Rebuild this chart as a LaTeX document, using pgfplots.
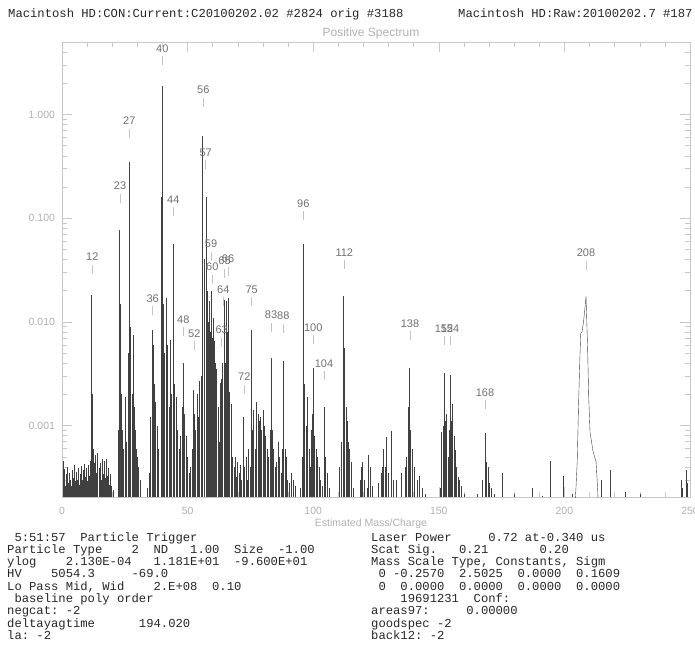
\documentclass[border=0pt]{standalone}
\usepackage{pgfplots}
\pgfplotsset{compat=1.18}
\usepackage{pgfplotstable}
\usepackage{fontspec}
\setmainfont{Liberation Sans}
\setmonofont{Liberation Mono}
\definecolor{axgray}{HTML}{C8C8C8}
\definecolor{tlgray}{HTML}{B0B0B0}
\definecolor{lbgray}{HTML}{707070}
\definecolor{lbtick}{HTML}{C4C4C4}
\definecolor{datgray}{HTML}{404040}
\definecolor{txtgray}{HTML}{262626}

\pgfplotstableread{
m h
0.3 4.6e-4
0.7 3.0e-4
1.0 3.8e-4
1.4 2.6e-4
1.8 3.4e-4
2.2 4.0e-4
2.6 2.8e-4
3.0 3.5e-4
3.4 3.0e-4
3.8 2.6e-4
4.2 3.7e-4
4.6 3.1e-4
5.0 4.2e-4
5.4 2.9e-4
5.8 3.6e-4
6.2 3.0e-4
6.6 3.9e-4
7.0 2.7e-4
7.4 3.4e-4
7.8 4.1e-4
8.2 3.0e-4
8.6 3.7e-4
9.0 4.3e-4
9.4 3.2e-4
9.8 3.9e-4
10.2 2.9e-4
10.6 4.2e-4
11.0 3.3e-4
11.4 4.6e-4
11.8 1.8e-2
12.2 2.0e-3
12.6 6.0e-4
13.0 4.4e-4
13.4 5.2e-4
13.8 3.5e-4
14.2 5.4e-4
14.6 3.9e-4
15.0 4.4e-4
15.4 3.0e-4
15.8 4.8e-4
16.2 3.4e-4
16.6 4.6e-4
17.0 3.1e-4
17.4 4.8e-4
17.8 3.3e-4
18.2 3.9e-4
18.6 2.7e-4
19.0 3.4e-4
19.5 2.6e-4
20.2 2.4e-4
22.3 9.0e-4
22.8 7.7e-2
23.2 1.5e-2
23.6 2.0e-3
24.0 9.0e-4
24.5 6.0e-4
25.0 1.9e-3
25.5 7.0e-4
26.2 5.0e-3
26.8 3.5e-1
27.3 9.0e-3
27.8 2.0e-3
28.2 7.5e-3
28.6 1.5e-3
29.1 9.0e-4
29.6 6.0e-4
30.0 5.0e-4
30.5 4.0e-4
31.0 3.0e-4
33.8 2.5e-4
34.6 3.5e-4
35.2 1.2e-3
35.7 8.3e-3
36.2 6.0e-3
36.7 2.5e-3
37.2 1.7e-3
37.8 1.0e-3
38.4 6.0e-4
39.3 1.6e-1
39.8 1.9
40.3 1.5e-2
40.8 5.0e-3
41.6 1.7e-2
42.0 6.0e-3
42.5 1.5e-3
43.0 6.7e-3
43.5 2.0e-3
44.2 5.7e-2
44.7 2.5e-3
45.3 1.9e-3
45.9 9.0e-4
46.5 6.0e-4
47.1 8.0e-4
47.7 1.5e-3
48.3 4.0e-3
48.8 1.3e-3
49.4 8.0e-4
50.0 5.0e-4
50.6 3.5e-4
51.2 4.0e-4
51.7 6.0e-4
52.2 2.2e-3
52.7 1.3e-3
53.2 9.0e-4
53.7 2.0e-3
54.2 1.2e-3
54.8 2.7e-3
55.3 3.0e-3
55.9 6.2e-1
56.4 4.0e-2
57.2 1.6e-1
57.6 2.0e-2
58.0 1.0e-2
58.4 1.6e-2
58.9 8.0e-3
59.3 2.0e-2
59.7 7.0e-3
60.1 1.1e-2
60.5 6.5e-3
61.0 4.0e-3
61.5 3.5e-3
62.0 1.5e-3
62.4 7.0e-4
62.8 2.6e-3
63.3 2.8e-3
63.8 4.0e-3
64.4 1.63e-2
64.8 4.0e-3
65.2 1.6e-2
65.6 8.0e-3
66.0 1.7e-2
66.6 2.1e-3
67.2 1.6e-3
67.8 5.0e-4
68.4 4.0e-4
68.9 5.0e-4
69.4 3.2e-4
69.9 4.5e-4
70.4 3.5e-4
70.9 4.2e-4
71.4 3.0e-4
72.2 1.2e-3
72.7 4.0e-4
73.2 5.0e-4
73.7 3.0e-4
74.3 6.0e-4
74.8 4.0e-4
75.2 8.4e-3
75.7 9.0e-4
76.3 1.4e-3
76.8 6.0e-4
77.4 1.7e-3
77.9 1.3e-3
78.4 1.1e-3
78.9 1.2e-3
79.4 9.0e-4
80.0 1.4e-3
80.5 1.0e-3
81.0 8.0e-4
81.5 6.0e-4
82.1 5.0e-4
82.7 9.0e-4
83.2 4.5e-3
83.7 9.0e-4
84.2 6.0e-4
84.8 4.0e-4
85.4 4.5e-4
86.0 7.0e-4
86.6 5.0e-4
87.2 3.5e-4
87.7 6.0e-4
88.2 4.2e-3
88.7 6.0e-4
89.2 5.0e-4
89.8 3.0e-4
90.5 2.8e-4
91.3 3.5e-4
92.2 3.0e-4
93.0 2.6e-4
94.8 2.5e-4
95.5 5.0e-4
96.1 5.7e-2
96.6 2.5e-3
97.1 1.0e-3
97.6 1.9e-3
98.2 6.0e-4
98.8 4.0e-4
99.3 9.0e-4
99.6 1.3e-3
100.0 3.6e-3
100.5 8.0e-4
101.0 6.0e-4
101.6 5.0e-4
102.2 4.0e-4
102.8 3.0e-4
103.6 2.6e-4
104.3 1.5e-3
104.8 5.0e-4
105.5 3.5e-4
106.4 2.5e-4
110.4 4.0e-4
111.3 7.0e-4
112.0 1.76e-2
112.5 5.6e-3
113.0 1.5e-3
113.5 1.1e-3
114.0 7.0e-4
114.5 6.0e-4
115.2 4.5e-4
116.0 2.5e-4
118.6 3.0e-4
119.1 4.0e-4
119.6 4.5e-4
120.2 3.0e-4
121.6 2.5e-4
122.0 5.2e-4
122.5 4.0e-4
123.3 2.6e-4
125.8 2.8e-4
126.9 3.5e-4
127.4 4.0e-4
127.9 6.0e-4
128.5 4.0e-4
129.2 7.7e-4
129.7 3.5e-4
131.2 8.9e-4
131.7 3.0e-4
133.0 3.0e-4
135.2 3.5e-4
136.6 4.0e-4
137.2 5.0e-4
137.7 1.5e-3
138.3 3.6e-3
138.8 9.0e-4
139.4 6.0e-4
140.3 4.0e-4
141.5 3.0e-4
142.3 3.3e-4
143.5 2.5e-4
144.5 2.2e-4
150.5 2.5e-4
151.1 8.6e-4
151.7 1.0e-3
152.2 3.2e-3
152.7 1.1e-3
153.1 1.3e-3
153.6 5.0e-4
154.0 9.0e-4
154.5 3.1e-3
155.0 1.1e-3
155.4 1.6e-3
156.0 8.0e-4
156.5 5.8e-4
157.0 4.0e-4
157.6 3.2e-4
158.2 3.0e-4
158.8 2.6e-4
160.0 2.2e-4
165.2 2.2e-4
167.2 3.0e-4
168.4 8.4e-4
168.9 4.5e-4
169.5 4.0e-4
170.2 2.8e-4
171.0 2.5e-4
172.2 2.2e-4
175.4 3.5e-4
180.0 2.2e-4
187.0 2.5e-4
191.0 2.1e-4
194.3 4.6e-4
199.6 3.3e-4
203.0 2.2e-4
214.8 3.0e-4
218.4 3.7e-4
224.1 2.3e-4
230.0 2.2e-4
246.3 3.0e-4
247.0 2.5e-4
248.4 3.7e-4
249.0 2.8e-4
}\peaks

\pgfplotstableread{
m h
204.0 1.5e-4
204.6 2.5e-4
205.1 4.5e-4
205.6 1.5e-3
206.1 4.0e-3
206.5 7.8e-3
207.0 8.0e-3
207.6 1.0e-2
208.1 1.3e-2
208.6 1.76e-2
209.2 6.0e-3
209.7 1.8e-3
210.2 8.6e-4
210.8 7.0e-4
211.3 5.8e-4
212.0 5.0e-4
212.6 4.5e-4
213.2 2.5e-4
213.6 1.5e-4
}\broad

\newcommand{\plab}[3]{%
  \node[font=\fontsize{11}{11}\selectfont, text=lbgray, inner sep=0] at (#1pt,-#2pt) {#3};
  \draw[lbtick, line width=0.5pt] (#1pt,-#2pt-8pt) -- (#1pt,-#2pt-17pt);
}
\newcommand{\mono}{\fontsize{12.2}{12.2}\ttfamily}

\begin{document}
\begin{tikzpicture}[x=1pt,y=1pt]
\path[use as bounding box] (0pt,0pt) rectangle (695pt,-648pt);
\begin{axis}[
  at={(62pt,-497pt)}, anchor=south west,
  scale only axis, width=628pt, height=455pt,
  xmin=0, xmax=250, ymode=log, ymin=2.05e-4, ymax=5,
  log origin=infty,
  axis line style={axgray, line width=0.6pt},
  every tick/.style={axgray, line width=0.5pt},
  tick align=inside, tick pos=both,
  major tick length=10pt, minor tick length=5pt,
  xtick={0,50,100,150,200,250}, xticklabels={0,50,100,150,200,250},
  minor x tick num=4,
  ytick={0.001,0.01,0.1,1}, yticklabels={0.001,0.010,0.100,1.000},
  minor ytick={3e-4,4e-4,5e-4,6e-4,7e-4,8e-4,9e-4,2e-3,3e-3,4e-3,5e-3,6e-3,7e-3,8e-3,9e-3,2e-2,3e-2,4e-2,5e-2,6e-2,7e-2,8e-2,9e-2,0.2,0.3,0.4,0.5,0.6,0.7,0.8,0.9,2,3,4},
  xticklabel pos=lower, yticklabel pos=left,
  ticklabel style={font=\fontsize{10.5}{12}\selectfont, text=tlgray},
  xticklabel style={yshift=-6.5pt},
  yticklabel style={xshift=-3.5pt},
]
\addplot[ycomb, datgray, line width=0.35pt, mark=none] table[x=m, y=h] {\peaks};
\addplot[datgray, line width=0.4pt, mark=none] table[x=m, y=h] {\broad};
\end{axis}

% titles
\node[font=\fontsize{12}{12}\selectfont, text=tlgray] at (371pt,-33pt) {Positive Spectrum};
\node[font=\fontsize{10.5}{10.5}\selectfont, text=tlgray] at (371pt,-524pt) {Estimated Mass/Charge};

% header
\node[anchor=base west, inner sep=0, font=\mono, text=txtgray] at (8pt,-17pt) {Macintosh~HD:CON:Current:C20100202.02~\#2824~orig~\#3188};
\node[anchor=base west, inner sep=0, font=\mono, text=txtgray] at (458pt,-17pt) {Macintosh~HD:Raw:20100202.7~\#187};

% peak labels
\plab{162.3}{48.3}{40}
\plab{203.3}{90}{56}
\plab{129.3}{120.5}{27}
\plab{205.7}{152.3}{57}
\plab{120}{186}{23}
\plab{173.3}{199.3}{44}
\plab{303.3}{203.3}{96}
\plab{211}{244}{59}
\plab{344.3}{252.3}{112}
\plab{586}{253}{208}
\plab{92.3}{257}{12}
\plab{224.5}{261}{65}
\plab{228}{258.5}{66}
\plab{212.3}{266.7}{60}
\plab{223.3}{289.3}{64}
\plab{251.7}{289.3}{75}
\plab{152.7}{298.3}{36}
\plab{271}{315}{83}
\plab{283.3}{316}{88}
\plab{183.3}{319.3}{48}
\plab{410}{323.3}{138}
\plab{313.3}{327.3}{100}
\plab{444}{328.3}{152}
\plab{450}{328.3}{154}
\plab{221.7}{330}{63}
\plab{194.3}{333.3}{52}
\plab{324}{363.3}{104}
\plab{244.3}{376.7}{72}
\plab{485}{392.3}{168}

% bottom left text block
\begin{scope}[every node/.style={anchor=base west, inner sep=0, font=\mono, text=txtgray}]
\node at (7pt,-541pt) {~5:51:57~~Particle~Trigger};
\node at (7pt,-553.3pt) {Particle~Type~~~~2~~ND~~~1.00~~Size~~-1.00};
\node at (7pt,-565.6pt) {ylog~~~~2.130E-04~~~1.181E+01~~-9.600E+01};
\node at (7pt,-577.9pt) {HV~~~~5054.3~~~~~-69.0};
\node at (7pt,-590.2pt) {Lo~Pass~Mid,~Wid~~~~2.E+08~~0.10};
\node at (7pt,-602.5pt) {~baseline~poly~order};
\node at (7pt,-614.8pt) {negcat:~-2};
\node at (7pt,-627.1pt) {deltayagtime~~~~~~194.020};
\node at (7pt,-639.4pt) {la:~-2};
\node at (371pt,-541pt) {Laser~Power~~~~~0.72~at-0.340~us};
\node at (371pt,-553.3pt) {Scat~Sig.~~~0.21~~~~~~~0.20};
\node at (371pt,-565.6pt) {Mass~Scale~Type,~Constants,~Sigm};
\node at (371pt,-577.9pt) {~0~-0.2570~~2.5025~~0.0000~~0.1609};
\node at (371pt,-590.2pt) {~0~~0.0000~~0.0000~~0.0000~~0.0000};
\node at (371pt,-602.5pt) {~~~~19691231~~Conf:};
\node at (371pt,-614.8pt) {areas97:~~~~~0.00000};
\node at (371pt,-627.1pt) {goodspec~-2};
\node at (371pt,-639.4pt) {back12:~-2};
\end{scope}
\end{tikzpicture}
\end{document}
